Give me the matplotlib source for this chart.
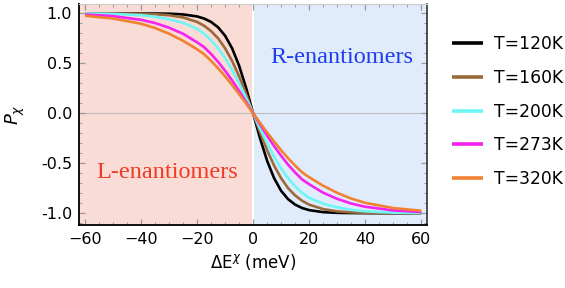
import matplotlib
matplotlib.use('Agg')
import matplotlib.pyplot as plt
from matplotlib.ticker import MultipleLocator

plt.rcParams['mathtext.fontset'] = 'dejavusans'

# energy difference (meV)
dE = [-60, -50, -40, -35, -30, -25, -20, -17.5, -15, -12.5, -10, -7.5, -5, -2.5,
      0, 2.5, 5, 7.5, 10, 12.5, 15, 17.5, 20, 25, 30, 35, 40, 50, 60]

# P_chi
p120 = [1.0, 1.0, 0.999, 0.998, 0.996, 0.989, 0.969, 0.948, 0.914, 0.860, 0.776, 0.650, 0.476, 0.253,
        0.0, -0.253, -0.476, -0.650, -0.776, -0.860, -0.914, -0.948, -0.969, -0.989, -0.996, -0.998, -0.999, -1.0, -1.0]
p160 = [1.0, 0.999, 0.996, 0.991, 0.981, 0.959, 0.914, 0.876, 0.822, 0.750, 0.650, 0.524, 0.370, 0.192,
        0.0, -0.192, -0.370, -0.524, -0.650, -0.750, -0.822, -0.876, -0.914, -0.959, -0.981, -0.991, -0.996, -0.999, -1.0]
p200 = [0.998, 0.994, 0.981, 0.966, 0.940, 0.905, 0.846, 0.796, 0.731, 0.650, 0.552, 0.435, 0.300, 0.154,
        0.0, -0.154, -0.300, -0.435, -0.552, -0.650, -0.731, -0.796, -0.846, -0.905, -0.940, -0.966, -0.981, -0.994, -0.998]
p273 = [0.988, 0.972, 0.935, 0.903, 0.856, 0.795, 0.710, 0.662, 0.593, 0.515, 0.426, 0.329, 0.224, 0.113,
        0.0, -0.113, -0.224, -0.329, -0.426, -0.515, -0.593, -0.662, -0.710, -0.795, -0.856, -0.903, -0.935, -0.972, -0.988]
p320 = [0.975, 0.948, 0.896, 0.853, 0.796, 0.725, 0.640, 0.591, 0.524, 0.450, 0.370, 0.283, 0.192, 0.097,
        0.0, -0.097, -0.192, -0.283, -0.370, -0.450, -0.524, -0.591, -0.640, -0.725, -0.796, -0.853, -0.896, -0.948, -0.975]

labels = ['T=120K', 'T=160K', 'T=200K', 'T=273K', 'T=320K']
colors = ['#000000', '#9b6a3c', '#6ff5f5', '#f522f0', '#f08232']
series = [p120, p160, p200, p273, p320]

fig = plt.figure(figsize=(5.65, 2.88), dpi=100)
ax = fig.add_axes([0.140, 0.219, 0.616, 0.767])

ax.axvspan(-70, -0.35, color='#f9dcd6', lw=0, zorder=0)
ax.axvspan(0.35, 70, color='#e0ecfb', lw=0, zorder=0)
ax.axhline(0, color='#bdbdbd', lw=0.8, zorder=1)

lines = []
for p, c, lab in zip(series, colors, labels):
    l, = ax.plot(dE, p, color=c, lw=1.9, label=lab, zorder=3, solid_capstyle='butt')
    lines.append(l)

ax.text(31.5, 0.56, 'R-enantiomers', color='#1f3df0', fontsize=17.5,
        family='Liberation Serif', ha='center', va='center')
ax.text(-30.7, -0.59, 'L-enantiomers', color='#ee3b25', fontsize=17.5,
        family='Liberation Serif', ha='center', va='center')

ax.set_xlim(-62.1, 62.1)
ax.set_ylim(-1.117, 1.093)
ax.xaxis.set_major_locator(MultipleLocator(20))
ax.xaxis.set_minor_locator(MultipleLocator(5))
ax.yaxis.set_major_locator(MultipleLocator(0.5))
ax.yaxis.set_minor_locator(MultipleLocator(0.1))
ax.yaxis.set_major_formatter(matplotlib.ticker.FormatStrFormatter('%.1f'))
ax.tick_params(which='both', direction='in', top=True, right=True, labelsize=11.5)
ax.tick_params(which='major', length=4, width=0.9, pad=5)
ax.tick_params(which='minor', length=2, width=0.7)
ax.tick_params(axis='x', which='both', colors='#9a9a9a', labelcolor='black')
ax.tick_params(axis='y', which='both', colors='#9a9a9a', labelcolor='black')

for s in ['left', 'bottom']:
    ax.spines[s].set_color('black')
    ax.spines[s].set_linewidth(1.3)
ax.spines['top'].set_color('#cccccc')
ax.spines['right'].set_color('#222222')
ax.spines['right'].set_linewidth(1.1)

ax.set_xlabel(r'$\Delta\mathrm{E}^{\chi}$ (meV)', fontsize=12)
ax.set_ylabel(r'$P_{\chi}$', fontsize=13, labelpad=10)

leg = fig.legend(handles=lines, loc='upper left', bbox_to_anchor=(0.800, 0.878),
                 frameon=False, fontsize=12.3, handlelength=1.8, handletextpad=0.64,
                 labelspacing=0.92, borderpad=0, borderaxespad=0)
for h in leg.get_lines():
    h.set_linewidth(2.6)

fig.savefig('out.png', dpi=100)
